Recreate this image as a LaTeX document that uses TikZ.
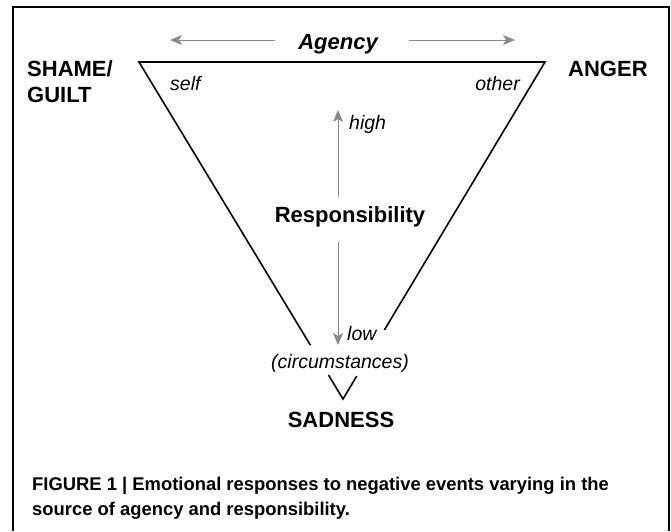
\documentclass[tikz,border=0pt]{standalone}
\usepackage{fontspec}
\setmainfont{Liberation Sans}
\usetikzlibrary{arrows.meta,calc}
\definecolor{arrowgray}{HTML}{8A8A8A}
\tikzset{
  frameline/.style={line width=1.4pt, draw=black},
  triline/.style={line width=1.6pt, draw=black, line join=miter},
  axisarrow/.style={draw=arrowgray, line width=1pt, -{Stealth[length=12pt,width=10pt,inset=3pt]}},
  emolabel/.style={inner sep=0pt, font=\fontsize{22}{26}\selectfont\bfseries},
  poslabel/.style={inner sep=0pt, font=\fontsize{19.5}{22}\selectfont\itshape},
  caplabel/.style={inner sep=0pt, align=left, font=\fontsize{18.4}{25}\selectfont\bfseries}
}
\begin{document}
\begin{tikzpicture}[x=1pt,y=-1pt]
\useasboundingbox (0,0) rectangle (671,531);
% frame
\draw[frameline] (13,531) -- (13,7) -- (669,7) -- (669,531);
% triangle
\coordinate (TL) at (139,62);
\coordinate (TR) at (545,62);
\coordinate (B) at (343,399);
\draw[triline] ($(TL)!0.840!(B)$) -- (TL) -- (TR) -- ($(TR)!0.795!(B)$);
\draw[triline] ($(TL)!0.929!(B)$) -- (B) -- ($(TR)!0.932!(B)$);
% agency
\node[emolabel, font=\fontsize{22}{26}\selectfont\bfseries\itshape, anchor=base] (agency) at (338,49) {Agency};
\coordinate (agLs) at (275,40);
\coordinate (agLe) at (170,40);
\coordinate (agRs) at (409,40);
\coordinate (agRe) at (515,40);
\draw[axisarrow] (agLs) -- (agLe);
\draw[axisarrow] (agRs) -- (agRe);
% responsibility
\node[emolabel, anchor=base] (resp) at (350,222) {Responsibility};
\coordinate (upS) at (338,197);
\coordinate (upE) at (338,110);
\coordinate (dnS) at (338,242);
\coordinate (dnE) at (338,345);
\draw[axisarrow] (upS) -- (upE);
\draw[axisarrow] (dnS) -- (dnE);
% emotion labels
\node[emolabel, anchor=base west, align=left] (shame) at (27,102) {SHAME/\\GUILT};
\node[emolabel, anchor=base west] (anger) at (568,76) {ANGER};
\node[emolabel, anchor=base] (sad) at (341,427) {SADNESS};
% position labels
\node[poslabel, anchor=base west] (self) at (170,90) {self};
\node[poslabel, anchor=base east] (other) at (520,90) {other};
\node[poslabel, anchor=base west] (high) at (349,129) {high};
\node[poslabel, anchor=base west] (low) at (347,340) {low};
\node[poslabel, anchor=base] (circ) at (340,368) {(circumstances)};
% caption
\node[caplabel, anchor=base west] (cap) at (32,515) {FIGURE 1 | Emotional responses to negative events varying in the\\source of agency and responsibility.};
\end{tikzpicture}
\end{document}
